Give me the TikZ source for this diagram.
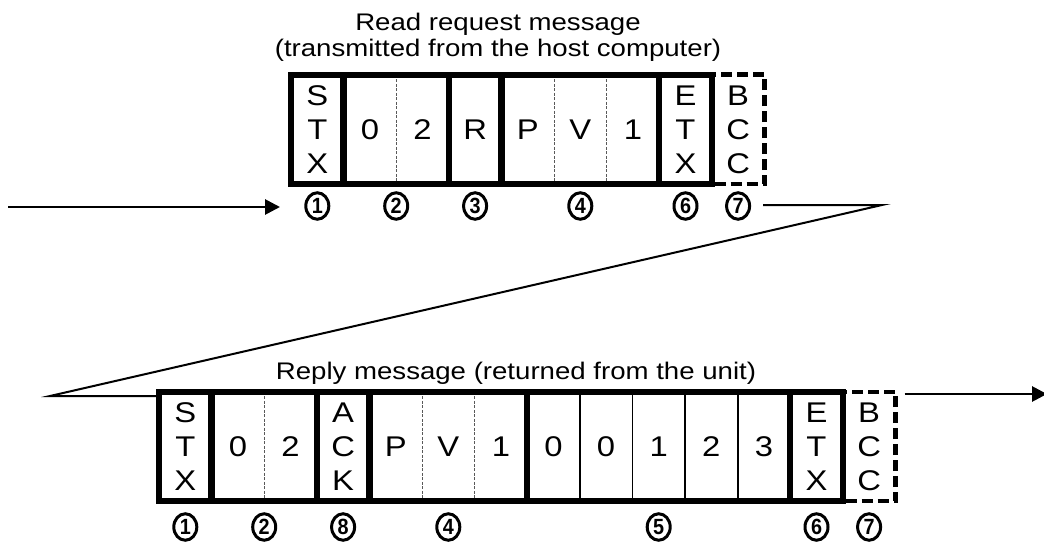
\documentclass[tikz,border=0pt]{standalone}
\usepackage{fontspec}
\setmainfont{Liberation Sans}[FakeStretch=1.15]
\newfontfamily\myDigitFont{Liberation Sans}[FakeStretch=0.9]
\usetikzlibrary{arrows.meta,shapes.geometric}
\newcommand\myCellFont{\fontsize{28.5}{34}\selectfont}
\newcommand\myTitleFont{\fontsize{24}{25.5}\selectfont}
\begin{document}
\begin{tikzpicture}[x=1pt,y=-1pt,
  cell/.style={inner sep=0pt, minimum width=52.6pt, minimum height=108.7pt, align=center, font=\myCellFont},
  frame/.style={line width=6pt},
  bccframe/.style={line width=4.8pt, dash pattern=on 11pt off 5pt},
  dsep/.style={line width=1.2pt, black!65, dash pattern=on 3pt off 1.5pt},
  tsep/.style={line width=1.7pt},
  conn/.style={line width=2pt},
  arr/.style={line width=2.8pt, -{Triangle[length=15pt,width=15pt]}},
  circ/.style={ellipse, draw, line width=3pt, inner sep=0pt, minimum width=23pt, minimum height=26.5pt,
    font=\myDigitFont\fontsize{22}{22}\selectfont\bfseries},
  title/.style={align=center, font=\myTitleFont}
]
\useasboundingbox (0,0) rectangle (1044,543);

% titles
\node[title] (t1) at (498,37.5) {Read request message\\(transmitted from the host computer)};
\node[title] (t2) at (516,373) {Reply message (returned from the unit)};

% top row cells
\node[cell] (a1) at (317.3,129.35) {S\\T\\X};
\node[cell] (a2) at (369.9,129.35) {0};
\node[cell] (a3) at (422.5,129.35) {2};
\node[cell] (a4) at (475.1,129.35) {R};
\node[cell] (a5) at (527.7,129.35) {P};
\node[cell] (a6) at (580.3,129.35) {V};
\node[cell] (a7) at (632.9,129.35) {1};
\node[cell] (a8) at (685.5,129.35) {E\\T\\X};
\node[cell] (a9) at (738.1,129.35) {B\\C\\C};

\draw[bccframe] (a9.north west) rectangle (a9.south east);
\draw[dsep] (a2.north east) -- (a2.south east);
\draw[dsep] (a5.north east) -- (a5.south east);
\draw[dsep] (a6.north east) -- (a6.south east);
\draw[frame] (a1.north west) rectangle (a1.south east);
\draw[frame] (a2.north west) rectangle (a3.south east);
\draw[frame] (a4.north west) rectangle (a4.south east);
\draw[frame] (a5.north west) rectangle (a7.south east);
\draw[frame] (a8.north west) rectangle (a8.south east);

% top labels
\node[circ] (la1) at (317.3,206) {1};
\node[circ] (la2) at (396.2,206) {2};
\node[circ] (la3) at (475.1,206) {3};
\node[circ] (la4) at (580.3,206) {4};
\node[circ] (la6) at (685.5,206) {6};
\node[circ] (la7) at (738.1,206) {7};

% reply row cells
\begin{scope}[every node/.append style={minimum height=109pt}]
\node[cell] (b1) at (185.3,446.5) {S\\T\\X};
\node[cell] (b2) at (237.9,446.5) {0};
\node[cell] (b3) at (290.5,446.5) {2};
\node[cell] (b4) at (343.1,446.5) {A\\C\\K};
\node[cell] (b5) at (395.7,446.5) {P};
\node[cell] (b6) at (448.3,446.5) {V};
\node[cell] (b7) at (500.9,446.5) {1};
\node[cell] (b8) at (553.5,446.5) {0};
\node[cell] (b9) at (606.1,446.5) {0};
\node[cell] (b10) at (658.7,446.5) {1};
\node[cell] (b11) at (711.3,446.5) {2};
\node[cell] (b12) at (763.9,446.5) {3};
\node[cell] (b13) at (816.5,446.5) {E\\T\\X};
\node[cell] (b14) at (869.1,446.5) {B\\C\\C};
\end{scope}

\draw[bccframe] (b14.north west) rectangle (b14.south east);
\draw[dsep] (b2.north east) -- (b2.south east);
\draw[dsep] (b5.north east) -- (b5.south east);
\draw[dsep] (b6.north east) -- (b6.south east);
\draw[tsep] (b8.north east) -- (b8.south east);
\draw[tsep] (b9.north east) -- (b9.south east);
\draw[tsep] (b10.north east) -- (b10.south east);
\draw[tsep] (b11.north east) -- (b11.south east);
\draw[frame] (b1.north west) rectangle (b1.south east);
\draw[frame] (b2.north west) rectangle (b3.south east);
\draw[frame] (b4.north west) rectangle (b4.south east);
\draw[frame] (b5.north west) rectangle (b7.south east);
\draw[frame] (b8.north west) rectangle (b12.south east);
\draw[frame] (b13.north west) rectangle (b13.south east);

% reply labels
\node[circ] (lb1) at (185.3,527) {1};
\node[circ] (lb2) at (264.2,527) {2};
\node[circ] (lb8) at (343.1,527) {8};
\node[circ] (lb4) at (448.3,527) {4};
\node[circ] (lb5) at (658.7,527) {5};
\node[circ] (lb6) at (816.5,527) {6};
\node[circ] (lb7) at (869.1,527) {7};

% connectors
\coordinate (inStart) at (8,207);
\coordinate (inTip) at (280,207);
\draw[arr] (inStart) -- (inTip);

\coordinate (zA) at (882,205);
\coordinate (zB) at (50,396);
\draw[conn] ([xshift=12pt]la7.east |- zA) -- (zA) -- (zB) -- (b1.west |- zB);

\coordinate (outTip) at (1047,394);
\draw[arr] ([xshift=9pt]b14.east |- outTip) -- (outTip);
\end{tikzpicture}
\end{document}
